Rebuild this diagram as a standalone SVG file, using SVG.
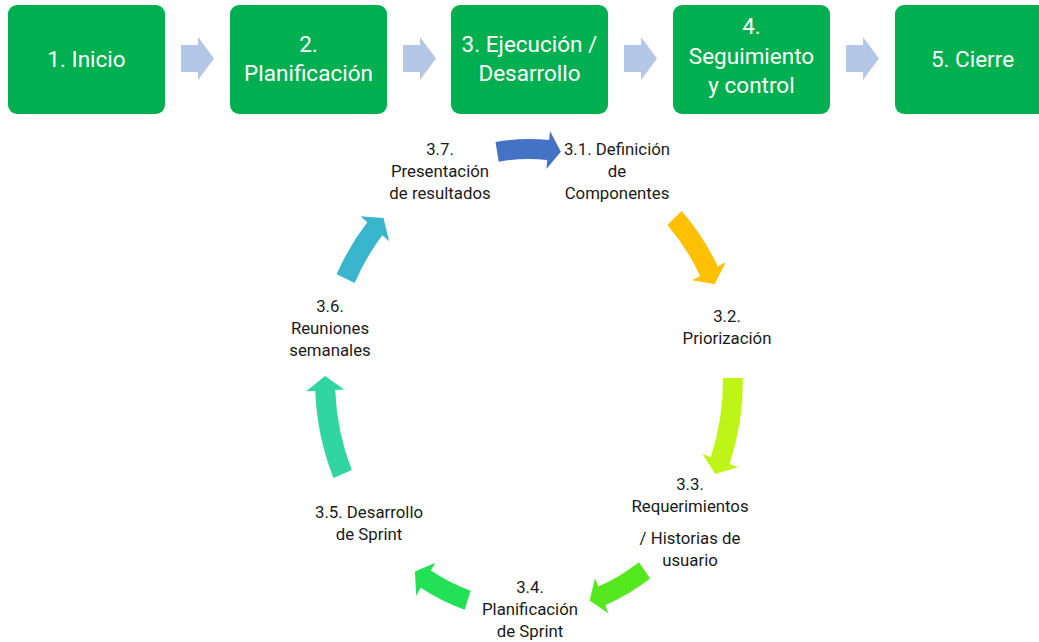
<svg xmlns="http://www.w3.org/2000/svg" width="1039" height="642" viewBox="0 0 1039 642">
<style>
.box{fill:#00B050;}
.bt{font-family:Roboto,"Liberation Sans",sans-serif;font-size:22.5px;fill:#ffffff;text-anchor:middle;}
.ct{font-family:Roboto,"Liberation Sans",sans-serif;font-size:16.8px;fill:#1a1a1a;text-anchor:middle;}
.chev{fill:#B4C7E7;}
</style>
<defs>
<path id="chev" d="M0,45 H17 V37 L33,58.5 L17,80 V72 H0 Z"/>
</defs>
<rect width="1039" height="642" fill="#ffffff"/>
<g id="phase1"><rect class="box" x="8" y="5" width="157" height="109" rx="9"/><text class="bt" x="86.5" y="67">1. Inicio</text></g>
<g id="phase2"><rect class="box" x="230" y="5" width="157" height="109" rx="9"/><text class="bt" x="308.5" y="52">2.</text><text class="bt" x="308.5" y="81">Planificación</text></g>
<g id="phase3"><rect class="box" x="451" y="5" width="157" height="109" rx="9"/><text class="bt" x="529.5" y="52">3. Ejecución /</text><text class="bt" x="529.5" y="81">Desarrollo</text></g>
<g id="phase4"><rect class="box" x="673" y="5" width="157" height="109" rx="9"/><text class="bt" x="751.5" y="34">4.</text><text class="bt" x="751.5" y="64">Seguimiento</text><text class="bt" x="751.5" y="93">y control</text></g>
<g id="phase5"><rect class="box" x="895" y="5" width="157" height="109" rx="9"/><text class="bt" x="972.5" y="67">5. Cierre</text></g>
<g id="connectors">
<use href="#chev" class="chev" x="181"/>
<use href="#chev" class="chev" x="403"/>
<use href="#chev" class="chev" x="624"/>
<use href="#chev" class="chev" x="846"/>
<path fill="#4472C4" d="M495.52,141.97 A214,241 0 0 1 549.14,140.07 L549.99,131.11 L560.91,151.84 L546.41,168.94 L547.26,159.98 A194,221 0 0 0 498.65,161.72 Z"/>
<path fill="#FFC000" d="M681.64,211.08 A214,241 0 0 1 717.78,266.49 L725.71,262.25 L714.63,284.21 L692.19,280.15 L700.13,275.91 A194,221 0 0 0 667.37,225.10 Z"/>
<path fill="#BFF516" d="M742.99,377.90 A214,241 0 0 1 729.58,464.01 L738.01,467.14 L715.36,473.96 L702.40,453.90 L710.83,457.03 A194,221 0 0 0 722.99,378.07 Z"/>
<path fill="#55E81E" d="M650.21,578.62 A214,241 0 0 1 605.34,605.14 L608.55,613.55 L589.66,600.55 L595.00,578.05 L598.21,586.46 A194,221 0 0 0 638.88,562.13 Z"/>
<path fill="#23E157" d="M464.65,609.85 A214,241 0 0 1 420.71,587.86 L416.16,595.63 L414.93,571.51 L435.38,562.85 L430.83,570.61 A194,221 0 0 0 470.66,590.77 Z"/>
<path fill="#31D5A0" d="M333.50,478.02 A214,241 0 0 1 315.22,390.93 L306.23,391.34 L325.03,375.97 L344.19,389.62 L335.20,390.02 A194,221 0 0 0 351.77,469.89 Z"/>
<path fill="#3AB5CE" d="M336.66,274.35 A214,241 0 0 1 367.25,222.21 L360.45,216.31 L383.50,218.09 L389.17,241.20 L382.37,235.30 A194,221 0 0 0 354.63,283.12 Z"/>
</g>
<g id="step31"><text class="ct" x="617" y="155">3.1. Definición</text><text class="ct" x="617" y="177">de</text><text class="ct" x="617" y="199">Componentes</text></g>
<g id="step32"><text class="ct" x="727" y="322">3.2.</text><text class="ct" x="727" y="344">Priorización</text></g>
<g id="step33"><text class="ct" x="690" y="490">3.3.</text><text class="ct" x="690" y="512">Requerimientos</text><text class="ct" x="690" y="544">/ Historias de</text><text class="ct" x="690" y="566">usuario</text></g>
<g id="step34"><text class="ct" x="530" y="593">3.4.</text><text class="ct" x="530" y="615">Planificación</text><text class="ct" x="530" y="637">de Sprint</text></g>
<g id="step35"><text class="ct" x="369" y="518">3.5. Desarrollo</text><text class="ct" x="369" y="540">de Sprint</text></g>
<g id="step36"><text class="ct" x="330" y="312">3.6.</text><text class="ct" x="330" y="334">Reuniones</text><text class="ct" x="330" y="356">semanales</text></g>
<g id="step37"><text class="ct" x="440" y="155">3.7.</text><text class="ct" x="440" y="177">Presentación</text><text class="ct" x="440" y="199">de resultados</text></g>
</svg>
